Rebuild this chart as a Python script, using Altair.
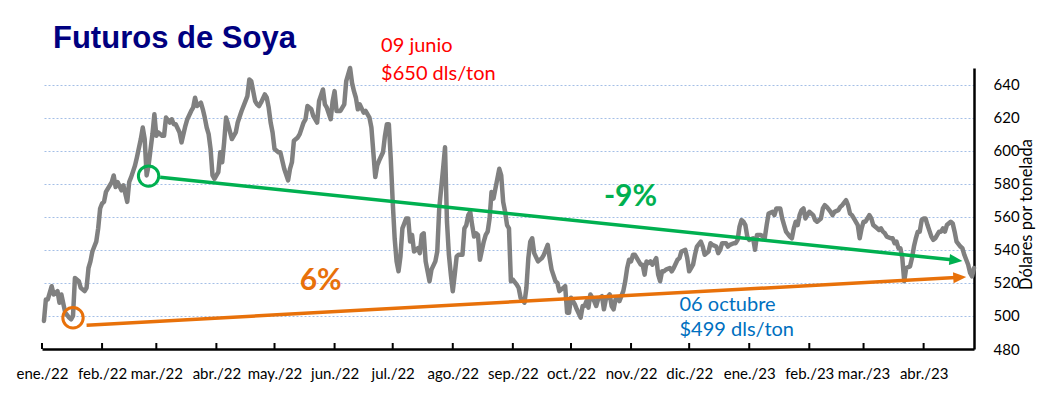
import altair as alt
import pandas as pd

# ---------------- data ----------------
inicio = "2022-01-01"

# trading days, as day offsets from 2022-01-01
dias = [
    1, 2, 3, 5, 6, 8, 9, 10, 12, 14, 15, 16, 17, 19, 20, 22, 23, 24, 25, 26, 27, 28, 29, 30, 31, 32, 33, 35, 36, 37,
    38, 39, 41, 42, 44, 45, 46, 48, 49, 51, 52, 53, 54, 55, 57, 58, 59, 60, 62, 63, 64, 66, 67, 68, 69, 71, 72, 74,
    75, 77, 78, 79, 80, 82, 83, 84, 85, 86, 87, 88, 89, 91, 92, 93, 94, 95, 96, 98, 100, 101, 103, 105, 106, 107,
    108, 110, 111, 112, 113, 115, 116, 117, 118, 119, 120, 122,
    123, 125, 127, 128, 129, 130, 132, 133, 135, 136, 137, 139, 140, 142, 143, 145, 146, 147, 149, 150, 151, 152,
    154, 156, 157, 159, 160, 161, 162, 163, 164, 166, 167, 169, 170, 171, 172, 173, 174, 176, 177, 178, 179, 180,
    181, 182, 183, 184, 185, 186, 188, 189, 190, 191, 192, 194, 195, 196, 197, 198, 200, 201, 203, 204, 205, 207,
    208, 209, 210, 211, 212, 213, 214, 215, 217, 218, 219, 220, 221, 222, 223, 224, 225, 226, 228, 229, 230, 231,
    232, 233, 234, 236, 237, 238, 239, 240,
    241, 242, 243, 245, 246, 247, 249, 250, 251, 252, 253, 254, 256, 258, 259, 261, 262, 263, 265, 266, 267, 269,
    270, 271, 272, 273, 275, 276, 278, 279, 280, 281, 282, 283, 285, 286, 287, 289, 290, 291, 293, 294, 295, 296,
    297, 298, 300, 301, 302, 303, 304, 305, 306, 308, 309, 310, 311, 312, 313, 314, 315, 317, 318, 319, 320, 321,
    322, 324, 325, 326, 328, 329, 330, 332, 333, 334, 335, 336, 337, 338, 340, 341, 342, 344, 345, 346, 348, 349,
    350, 351, 353, 354, 355, 357, 358, 359, 360, 361, 362, 363,
    364, 365, 367, 368, 369, 371, 372, 373, 374, 375, 377, 378, 379, 381, 382, 383, 384, 386, 387, 388, 389, 390,
    391, 392, 393, 394, 396, 397, 398, 399, 400, 402, 403, 404, 405, 407, 408, 409, 411, 412, 413, 415, 416, 417,
    418, 419, 421, 422, 423, 424, 425, 426, 427, 428, 429, 431, 432, 433, 434, 435, 436, 438, 439, 440, 441, 442,
    443, 444, 445, 446, 448, 449, 450, 451, 452, 453, 454, 455, 456, 457, 459, 460, 461, 463, 464, 465, 466, 467,
    469, 470, 471, 472, 474, 475, 476, 477, 478, 479, 480, 481,
]

# soybean futures, dollars per ton
precios = [
    497, 510, 510, 518, 513, 515, 508, 513, 502, 499, 498, 500, 523, 521, 517, 515, 517, 529, 533, 539, 542, 545,
    553, 565, 568, 569, 575, 579, 581, 585, 578, 581, 576, 579, 569, 581, 584, 591, 596, 607, 614, 607, 585, 591,
    610, 622, 609, 611, 609, 609, 620, 617, 619, 616, 616, 611, 605, 615, 619, 624, 626, 632, 627, 629, 625, 620,
    614, 610, 601, 585, 583, 587, 599, 593, 605, 620, 616, 607, 611, 617, 624, 630, 633, 643, 642, 630, 628, 627,
    629, 634, 632, 626, 617, 611, 601, 599,
    599, 589, 582, 589, 593, 606, 608, 610, 617, 619, 627, 625, 621, 617, 630, 637, 628, 626, 619, 630, 636, 624,
    624, 628, 642, 650, 641, 636, 632, 625, 628, 623, 624, 620, 614, 599, 584, 591, 594, 599, 609, 616, 616, 595,
    569, 547, 533, 527, 536, 553, 559, 559, 545, 549, 539, 541, 538, 549, 550, 533, 521, 528, 533, 539, 565, 589,
    602, 557, 537, 525, 515, 525, 536, 537, 537, 553, 555, 561, 563, 555, 548, 550, 549, 534, 545, 549, 551, 559,
    575, 571, 577, 589, 585, 569, 563, 555,
    553, 521, 522, 519, 517, 511, 508, 517, 535, 545, 547, 538, 533, 535, 537, 543, 535, 528, 521, 520, 515, 517,
    518, 502, 502, 511, 507, 504, 499, 506, 506, 509, 505, 513, 509, 506, 510, 512, 504, 510, 513, 506, 504, 510,
    511, 509, 515, 521, 529, 534, 533, 537, 537, 533, 531, 531, 525, 533, 532, 533, 531, 535, 525, 521, 527, 527,
    528, 529, 527, 529, 534, 535, 539, 540, 535, 527, 529, 531, 537, 542, 545, 542, 537, 539, 544, 543, 542, 538,
    540, 544, 544, 542, 543, 544, 544, 546, 554, 558, 557, 555,
    548, 546, 547, 540, 549, 549, 548, 547, 555, 562, 563, 561, 565, 565, 559, 555, 551, 548, 547, 553, 557, 555,
    561, 564, 565, 559, 563, 562, 561, 558, 557, 559, 565, 567, 566, 563, 561, 563, 564, 566, 567, 570, 567, 562,
    561, 559, 555, 547, 553, 557, 557, 559, 561, 559, 555, 553, 552, 553, 551, 550, 548, 547, 547, 544, 545, 541,
    541, 535, 521, 529, 530, 535, 542, 547, 551, 551, 558, 559, 559, 555, 548, 546, 547, 551, 551, 553, 551, 555,
    557, 556, 551, 545, 542, 541, 537, 534, 531, 526, 524, 529,
]

# month ticks of the x axis and their Spanish names
meses_ticks = [
    "2022-01-01", "2022-02-01", "2022-03-01", "2022-04-01", "2022-05-01", "2022-06-01", "2022-07-01",
    "2022-08-01", "2022-09-01", "2022-10-01", "2022-11-01", "2022-12-01", "2023-01-01", "2023-02-01",
    "2023-03-01", "2023-04-01",
]
nombres_meses = ["ene.", "feb.", "mar.", "abr.", "may.", "jun.", "jul.", "ago.", "sep.", "oct.", "nov.", "dic."]
fin_eje = "2023-04-27"
y_ticks = [480, 500, 520, 540, 560, 580, 600, 620, 640]
y_dominio = [480, 650]

# trend arrows (start, end of shaft, arrow tip)
tend_serie = ["verde", "verde", "naranja", "naranja"]
tend_fechas = ["2022-03-03", "2023-04-18", "2022-01-24", "2023-04-20"]
tend_valores = [583.9, 533.7, 494.4, 523.4]
tend_colores = ["#00B050", "#00B050", "#E8710A", "#E8710A"]

punta_fechas = ["2023-04-21", "2023-04-23"]
punta_valores = [533.3, 523.6]
punta_angulos = [5.9, 356.7]
punta_colores = ["#00B050", "#E8710A"]

circ_fechas = ["2022-02-25", "2022-01-17"]
circ_valores = [584.6, 498.9]
circ_colores = ["#00B050", "#E8710A"]

# annotations
nota_textos = ["09 junio", "$650 dls/ton", "06 octubre", "$499 dls/ton"]
nota_fechas = ["2022-06-25", "2022-06-25", "2022-11-26", "2022-11-26"]
nota_valores = [659.4, 643.0, 503.0, 488.0]
nota_colores = ["#FF0000", "#FF0000", "#0070C0", "#0070C0"]

pct_textos = ["-9%", "6%"]
pct_fechas = ["2022-10-18", "2022-05-14"]
pct_valores = [566.7, 515.8]
pct_colores = ["#00B050", "#E8710A"]

titulo = "Futuros de Soya"
titulo_y = "Dólares por tonelada"

# ---------------- tables ----------------
fechas = (pd.Timestamp(inicio) + pd.to_timedelta(dias, unit="D")).strftime("%Y-%m-%d")
df = pd.DataFrame({"fecha": list(fechas), "valor": precios})
df_tend = pd.DataFrame({"serie": tend_serie, "fecha": tend_fechas, "valor": tend_valores, "color": tend_colores})
df_punta = pd.DataFrame({"fecha": punta_fechas, "valor": punta_valores, "angulo": punta_angulos, "color": punta_colores})
df_circ = pd.DataFrame({"fecha": circ_fechas, "valor": circ_valores, "color": circ_colores})
df_nota = pd.DataFrame({"texto": nota_textos, "fecha": nota_fechas, "valor": nota_valores, "color": nota_colores})
df_pct = pd.DataFrame({"texto": pct_textos, "fecha": pct_fechas, "valor": pct_valores, "color": pct_colores})
df_ticks = pd.DataFrame({"fecha": meses_ticks})

def ms(s):
    return int(pd.Timestamp(s, tz="UTC").value // 10**6)

tick_ms = [ms(s) for s in meses_ticks]
dominio_x = [ms(inicio), ms(fin_eje)]

nombres_js = "[" + ",".join("'" + n + "'" for n in nombres_meses) + "]"
label_expr = nombres_js + "[utcmonth(datum.value)] + '/' + utcFormat(datum.value, '%y')"

W, H = 932, 281
FONT = "Lato"

x_enc = alt.X(
    "fecha:T",
    scale=alt.Scale(type="utc", domain=dominio_x),
    axis=alt.Axis(
        values=tick_ms, labelExpr=label_expr, title=None, grid=False,
        ticks=False, tickSize=0, domainColor="black", domainWidth=2.5,
        labelFont=FONT, labelFontSize=15, labelColor="black", labelPadding=17,
        labelFlush=False, labelOverlap=False,
    ),
)
y_enc = alt.Y(
    "valor:Q",
    scale=alt.Scale(domain=y_dominio, nice=False, zero=False),
    axis=alt.Axis(
        orient="right", values=y_ticks, grid=True, gridColor="#A4BFE6", gridDash=[2, 2], gridWidth=1,
        ticks=False, tickSize=0, domainColor="black", domainWidth=2.5,
        labelFont=FONT, labelFontSize=15, labelColor="black", labelPadding=19,
        title=titulo_y, titleFont=FONT, titleFontSize=16.5, titleFontWeight="normal", titleColor="black",
        titleAngle=270, titleX=52, titleY=146, titleAlign="center", titleBaseline="middle",
    ),
)

linea = alt.Chart(df).mark_line(color="#808080", strokeWidth=4.5, strokeJoin="round", strokeCap="round").encode(
    x=x_enc, y=y_enc
)

tend = alt.Chart(df_tend).mark_line(strokeWidth=3.5).encode(
    x=x_enc, y=y_enc, detail="serie:N", color=alt.Color("color:N", scale=None)
)

puntas = alt.Chart(df_punta).mark_point(
    shape="M -2 -0.85 L 0 0 L -2 0.85 Z", filled=True, size=169, opacity=1
).encode(x=x_enc, y=y_enc, angle=alt.Angle("angulo:Q", scale=None), color=alt.Color("color:N", scale=None))

circulos = alt.Chart(df_circ).mark_point(shape="circle", filled=False, size=415, strokeWidth=3, opacity=1).encode(
    x=x_enc, y=y_enc, color=alt.Color("color:N", scale=None)
)

notas = alt.Chart(df_nota).mark_text(font=FONT, fontSize=20, align="left", baseline="alphabetic").encode(
    x=x_enc, y=y_enc, text="texto:N", color=alt.Color("color:N", scale=None)
)

pct = alt.Chart(df_pct).mark_text(font=FONT, fontSize=30, fontWeight="bold", align="left", baseline="alphabetic").encode(
    x=x_enc, y=y_enc, text="texto:N", color=alt.Color("color:N", scale=None)
)

marcas = alt.Chart(df_ticks).mark_rule(color="black", strokeWidth=2).encode(
    x=x_enc, y=alt.value(H), y2=alt.value(H - 6)
)

titulo_mark = alt.Chart(pd.DataFrame({"t": [titulo]})).mark_text(
    font="Liberation Sans", fontSize=31, fontWeight="bold", color="#000080", align="left", baseline="alphabetic"
).encode(text="t:N", x=alt.value(11), y=alt.value(-20))

chart = alt.layer(linea, tend, circulos, puntas, notas, pct, marcas, titulo_mark).properties(
    width=W, height=H,
    autosize=alt.AutoSizeParams(type="none"),
    padding={"left": 34, "top": 60, "right": 62, "bottom": 34},
    background="white",
).configure_view(stroke=None)

chart.save("out.html", embed_options={"renderer": "svg", "actions": False})
